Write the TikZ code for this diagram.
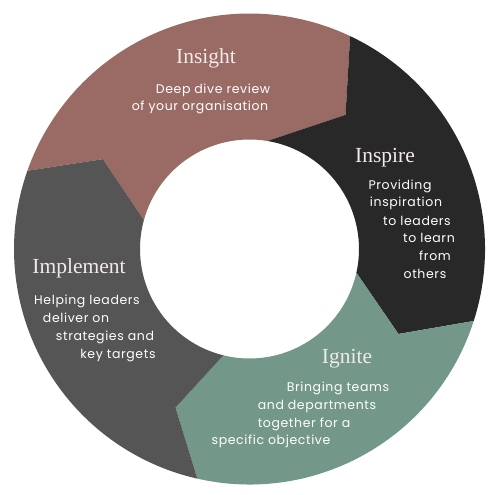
\documentclass[tikz,border=0pt]{standalone}
\usepackage{fontspec}
\usepackage{tikz}
\newfontfamily\bodyfont[LetterSpace=5]{Poppins}
\newfontfamily\headfont{Liberation Serif}
\definecolor{Rose}{HTML}{996B64}
\definecolor{Coal}{HTML}{282828}
\definecolor{Sage}{HTML}{739889}
\definecolor{Slate}{HTML}{555555}
\definecolor{Chalk}{HTML}{F2EAE8}
\tikzset{
  seg/.style={draw=none},
  title/.style={anchor=base,inner sep=0pt,text=Chalk,font=\headfont\fontsize{21.5}{24}\selectfont},
  body/.style={anchor=base,inner sep=0pt,text=white,font=\bodyfont\fontsize{12.5}{15}\selectfont},
}
\def\Ro{235.5pt}
\def\Ri{109.5pt}

\begin{document}
\begin{tikzpicture}[x=1pt,y=1pt]
  \useasboundingbox[fill=white] (-249.5,-246) rectangle (245.5,249);
  % chevron tips between the four parts
  \coordinate (tipA) at (54.4:165pt);
  \coordinate (tipB) at (-29.7:171.5pt);
  \coordinate (tipC) at (-115:175pt);
  \coordinate (tipD) at (148.5:172pt);
  \fill[seg,Rose] (160.6:\Ro) arc[start angle=160.6,end angle=64.7,radius=\Ro] -- (tipA)
    -- (80.6:\Ri) arc[start angle=80.6,end angle=164.7,radius=\Ri] -- (tipD) -- cycle;
  \fill[seg,Coal] (64.7:\Ro) arc[start angle=64.7,end angle=-17.8,radius=\Ro] -- (tipB)
    -- (-12.5:\Ri) arc[start angle=-12.5,end angle=80.6,radius=\Ri] -- (tipA) -- cycle;
  \fill[seg,Sage] (-17.8:\Ro) arc[start angle=-17.8,end angle=-102.8,radius=\Ro] -- (tipC)
    -- (-103.8:\Ri) arc[start angle=-103.8,end angle=-12.5,radius=\Ri] -- (tipB) -- cycle;
  \fill[seg,Slate] (-102.8:\Ro) arc[start angle=-102.8,end angle=-199.4,radius=\Ro] -- (tipD)
    -- (164.7:\Ri) arc[start angle=164.7,end angle=256.2,radius=\Ri] -- (tipC) -- cycle;

  % headings
  \node[title] (insight) at (-43.5,185) {Insight};
  \node[title] (inspire) at (135.5,86) {Inspire};
  \node[title] (ignite) at (97.5,-114) {Ignite};
  \node[title] (implement) at (-170.5,-24) {Implement};

  % descriptions, one line at a time
  \foreach \t/\x/\y [count=\k] in {Deep dive review/-36.5/155, of your organisation/-49.5/138}
    \node[body] (insight\k) at (\x,\y) {\t};
  \foreach \t/\x/\y [count=\k] in {Providing/150.5/59, inspiration/156.5/42, to leaders/167.5/23,
      to learn/179.5/6, from/185.5/-12, others/175.5/-30}
    \node[body] (inspire\k) at (\x,\y) {\t};
  \foreach \t/\x/\y [count=\k] in {Bringing teams/88.5/-142, and departments/67.5/-160,
      together for a/54.5/-178, specific objective/21.5/-195}
    \node[body] (ignite\k) at (\x,\y) {\t};
  \foreach \t/\x/\y [count=\k] in {Helping leaders/-162.5/-55, deliver on/-173.5/-73,
      strategies and/-144.5/-91, key targets/-131.5/-109}
    \node[body] (implement\k) at (\x,\y) {\t};
\end{tikzpicture}
\end{document}
